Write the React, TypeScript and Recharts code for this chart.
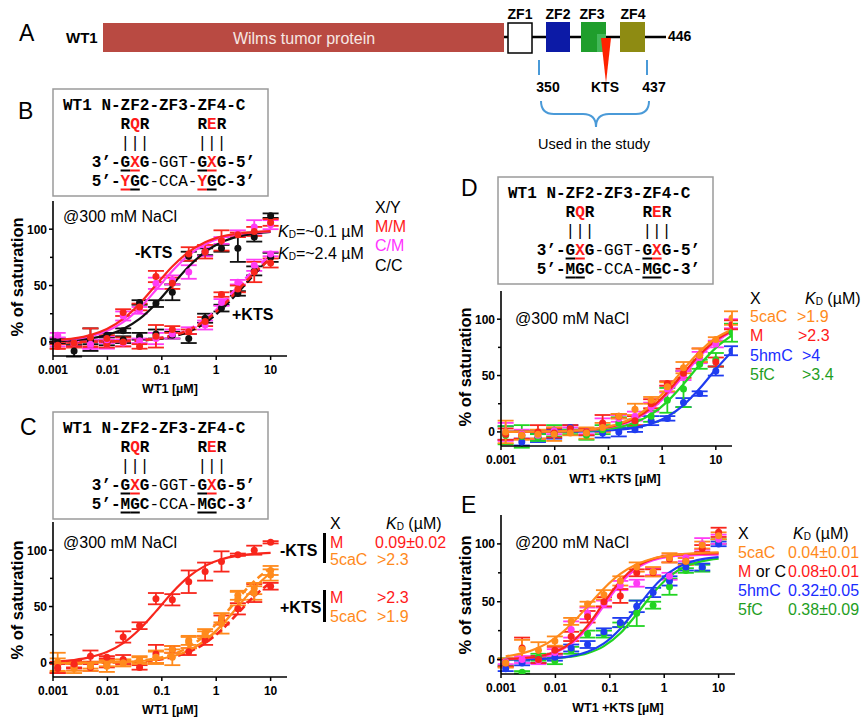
import React from 'react'
import { ComposedChart, Scatter, Line, XAxis, YAxis, ErrorBar } from 'recharts'

const SANS = "'Liberation Sans', Arial, sans-serif"
const MONO = "'Liberation Mono', 'Courier New', monospace"

const RED = '#f8261c'
const MAG = '#ff3cf5'
const BLK = '#111111'
const ORA = '#ff8a1c'
const BLU = '#1f3cf0'
const GRN = '#22d422'

// dilution series (uM)
const CONC = [0.00122, 0.00244, 0.00488, 0.00977, 0.0195, 0.039, 0.078, 0.156, 0.3125, 0.625, 1.25, 2.5, 5, 10]
const CONC_D = [0.00122, 0.00244, 0.00488, 0.00977, 0.0195, 0.039, 0.078, 0.156, 0.3125, 0.625, 1.25, 2.5, 5, 10, 20]
const X_TICKS = [0.001, 0.01, 0.1, 1, 10]
const Y_TICKS = [0, 25, 50, 75, 100]
const Y_LABELS = [0, 50, 100]

// B: -KTS
const B_MM_NO_Y = [-3, -1, 4, 3, 26, 31, 58, 52, 78, 80, 90, 95, 98, 106]
const B_MM_NO_E = [3, 3, 8, 3, 3, 3, 5, 5, 6, 6, 9, 2, 4, 3]
const B_MM_NO_FIT = [1.6, 3.1, 6.0, 11.4, 20.4, 33.9, 50.5, 66.9, 79.8, 88.4, 93.4, 96.1, 97.5, 98.3]
const B_CM_NO_Y = [6, -1, -2, 2, 23, 28, 52, 55, 62, 80, 90, 96, 102, 104]
const B_CM_NO_E = [2, 3, 4, 3, 4, 3, 5, 4, 6, 4, 3, 3, 6, 4]
const B_CM_NO_FIT = [1.3, 2.6, 5.1, 9.7, 17.6, 29.9, 46.0, 62.8, 76.9, 86.5, 92.4, 95.6, 97.3, 98.1]
const B_CC_NO_Y = [1, -8, 2, 6, 10, 35, 34, 44, 76, 80, 83, 83, 93, 112]
const B_CC_NO_E = [2, 5, 10, 2, 2, 2, 3, 7, 4, 3, 3, 12, 4, 2]
const B_CC_NO_FIT = [0.8, 1.6, 3.1, 6.1, 11.4, 20.4, 33.9, 50.5, 66.9, 79.8, 88.4, 93.4, 96.1, 97.5]
// B: +KTS
const B_MM_KTS_Y = [-4, -3, -2, -2, 0, -4, 5, 11, 9, 18, 42, 47, 62, 70]
const B_MM_KTS_E = [2, 2, 3, 3, 4, 2, 10, 3, 2, 4, 2, 3, 9, 4]
const B_MM_KTS_FIT = [0.1, 0.1, 0.2, 0.4, 0.7, 1.4, 2.8, 5.5, 10.5, 19, 31, 46, 61, 74]
const B_CM_KTS_Y = [-2, -2, -3, -2, -1, 1, 3, 7, 10, 15, 35, 53, 68, 78]
const B_CM_KTS_E = [2, 2, 3, 4, 3, 2, 5, 4, 3, 4, 3, 2, 5, 2]
const B_CM_KTS_FIT = [0.1, 0.1, 0.2, 0.4, 0.8, 1.5, 3, 5.8, 11, 20, 33, 49, 64, 77]
const B_CC_KTS_Y = [0, -1, 0, -1, 2, 5, 7, 6, 3, 21, 30, 43, 63, 75]
const B_CC_KTS_E = [2, 2, 2, 2, 3, 3, 4, 3, 4, 4, 3, 2, 4, 4]
const B_CC_KTS_FIT = [0, 0.1, 0.2, 0.3, 0.6, 1.2, 2.4, 4.8, 9.2, 17, 29, 44, 60, 75]

// C
const C_M_NO_Y = [-4, -1, 6, 5, 23, 33, 57, 56, 72, 81, 90, 96, 100, 107]
const C_M_NO_E = [5, 3, 5, 1, 5, 3, 5, 5, 10, 8, 9, 1, 4, 1]
const C_M_NO_FIT = [1.3, 2.6, 5.1, 9.6, 17.5, 29.8, 45.7, 62.5, 76.5, 86.1, 91.9, 95.1, 96.8, 97.6]
const C_CA_NO_Y = [1, -5, -3, -3, 0, 2, 5, 5, 20, 25, 35, 57, 62, 78]
const C_CA_NO_E = [8, 4, 4, 5, 3, 3, 6, 7, 4, 3, 9, 6, 6, 5]
const C_CA_NO_FIT = [0.05, 0.1, 0.2, 0.4, 0.8, 1.5, 3, 5.9, 11.1, 20, 33.3, 50, 66.7, 80]
const C_M_KTS_Y = [-5, -2, -4, -1, 3, -4, 8, 12, 10, 20, 38, 48, 62, 68]
const C_M_KTS_E = [4, 3, 3, 3, 4, 2, 8, 3, 3, 4, 4, 5, 8, 3]
const C_M_KTS_FIT = [0.04, 0.08, 0.2, 0.3, 0.7, 1.3, 2.6, 5.1, 9.6, 17.5, 29.2, 44.1, 59.2, 71.4]
const C_CA_KTS_Y = [-2, -4, -2, 0, 0, 3, 5, 12, 18, 27, 40, 60, 66, 82]
const C_CA_KTS_E = [6, 3, 3, 3, 3, 3, 5, 3, 5, 3, 4, 4, 5, 4]
const C_CA_KTS_FIT = [0.06, 0.13, 0.26, 0.5, 1, 2, 3.9, 7.6, 14.1, 24.8, 39.7, 56.8, 72.5, 84]

// D (+KTS, 300 mM)
const D_CA_Y = [0, -3, -2, -2, -1, -1, 4, 14, 20, 28, 40, 57, 68, 82, 101]
const D_CA_E = [10, 4, 4, 6, 2, 5, 4, 2, 5, 3, 4, 5, 6, 2, 6]
const D_CA_FIT = [0.06, 0.12, 0.24, 0.49, 0.97, 1.9, 3.8, 7.2, 13.5, 23.8, 38.5, 55.6, 71.4, 83.3, 90.9]
const D_M_Y = [-2, -3, 0, -1, 3, 0, 8, 14, 10, 25, 43, 52, 68, 62, 95]
const D_M_E = [5, 3, 6, 4, 3, 3, 7, 2, 4, 4, 2, 4, 6, 4, 4]
const D_M_FIT = [0.05, 0.1, 0.2, 0.4, 0.8, 1.7, 3.3, 6.3, 12, 21.4, 35.2, 52.1, 68.5, 81.3, 89.7]
const D_C_Y = [0, -2, -3, 1, 2, 0, 6, 12, 14, 22, 38, 50, 66, 78, 96]
const D_C_E = [8, 4, 3, 3, 2, 2, 6, 3, 4, 4, 3, 4, 5, 3, 4]
const D_C_FIT = [0.05, 0.1, 0.2, 0.4, 0.8, 1.5, 3, 5.9, 11.1, 20, 33.3, 50, 66.7, 80, 88.9]
const D_HM_Y = [-1, -9, -5, -2, 4, 0, -1, 0, 2, 10, 12, 26, 34, 54, 72]
const D_HM_E = [6, 3, 4, 4, 2, 3, 4, 4, 2, 4, 2, 4, 2, 4, 4]
const D_HM_FIT = [0.02, 0.03, 0.06, 0.12, 0.24, 0.49, 0.97, 1.9, 3.8, 7.2, 13.5, 23.8, 38.5, 55.6, 71.4]
const D_F_Y = [-3, -4, -5, 1, 0, -3, 2, 8, 8, 14, 28, 38, 60, 64, 88]
const D_F_E = [8, 10, 3, 5, 2, 4, 4, 5, 3, 5, 11, 16, 4, 6, 8]
const D_F_FIT = [0.04, 0.07, 0.14, 0.29, 0.57, 1.1, 2.2, 4.4, 8.4, 15.5, 26.9, 42.4, 59.5, 74.6, 85.5]

// E (+KTS, 200 mM)
const E_CA_Y = [-3, 9, 8, 16, 33, 48, 56, 68, 80, 76, 88, 85, 99, 107]
const E_CA_E = [4, 8, 7, 4, 3, 2, 4, 4, 4, 4, 4, 3, 3, 3]
const E_CA_FIT = [2.8, 5.3, 10.1, 18.3, 30.5, 45.9, 61.5, 74, 82.4, 87.4, 90.1, 91.5, 92.3, 92.6]
const E_M_Y = [-3, 10, 0, 8, 20, 37, 50, 55, 75, 75, 87, 85, 96, 110]
const E_M_E = [3, 9, 3, 3, 4, 5, 4, 6, 3, 3, 3, 3, 3, 4]
const E_M_FIT = [0.5, 1.2, 2.8, 6.6, 14.7, 29.3, 49.2, 68, 80.5, 87, 89.9, 91.1, 91.6, 91.8]
const E_C_Y = [-2, 0, -1, 6, 26, 40, 48, 64, 66, 76, 72, 88, 100, 104]
const E_C_E = [2, 3, 3, 3, 7, 5, 3, 4, 3, 3, 3, 3, 5, 4]
const E_C_FIT = [0.5, 1.1, 2.5, 6.0, 13.5, 27.2, 46.6, 65.8, 78.9, 85.9, 88.9, 90.1, 90.6, 90.8]
const E_HM_Y = [-8, -3, 0, 2, 10, 13, 24, 32, 46, 58, 68, 80, 80, 100]
const E_HM_E = [2, 2, 3, 3, 3, 3, 3, 4, 5, 4, 4, 3, 3, 2]
const E_HM_FIT = [0.1, 0.3, 0.6, 1.3, 3.0, 6.7, 14, 26.7, 44.4, 62.2, 75.3, 83, 86.8, 88.6]
const E_F_Y = [-2, -11, 2, -1, 8, 22, 22, 30, 40, 47, 63, 77, 79, 102]
const E_F_E = [3, 1, 3, 3, 3, 3, 3, 2, 11, 3, 7, 2, 3, 2]
const E_F_FIT = [0.1, 0.2, 0.5, 1.1, 2.4, 5.4, 11.6, 22.7, 39.3, 57.4, 71.8, 80.6, 85.1, 87.3]

type Series = { color: string; xs: number[]; y: number[]; e: number[]; fit: number[]; dash?: boolean }

const B_SERIES: Series[] = [
  { color: BLK, xs: CONC, y: B_CC_KTS_Y, e: B_CC_KTS_E, fit: B_CC_KTS_FIT, dash: true },
  { color: MAG, xs: CONC, y: B_CM_KTS_Y, e: B_CM_KTS_E, fit: B_CM_KTS_FIT, dash: true },
  { color: RED, xs: CONC, y: B_MM_KTS_Y, e: B_MM_KTS_E, fit: B_MM_KTS_FIT, dash: true },
  { color: BLK, xs: CONC, y: B_CC_NO_Y, e: B_CC_NO_E, fit: B_CC_NO_FIT },
  { color: MAG, xs: CONC, y: B_CM_NO_Y, e: B_CM_NO_E, fit: B_CM_NO_FIT },
  { color: RED, xs: CONC, y: B_MM_NO_Y, e: B_MM_NO_E, fit: B_MM_NO_FIT },
]
const C_SERIES: Series[] = [
  { color: RED, xs: CONC, y: C_M_KTS_Y, e: C_M_KTS_E, fit: C_M_KTS_FIT, dash: true },
  { color: ORA, xs: CONC, y: C_CA_KTS_Y, e: C_CA_KTS_E, fit: C_CA_KTS_FIT, dash: true },
  { color: ORA, xs: CONC, y: C_CA_NO_Y, e: C_CA_NO_E, fit: C_CA_NO_FIT },
  { color: RED, xs: CONC, y: C_M_NO_Y, e: C_M_NO_E, fit: C_M_NO_FIT },
]
const D_SERIES: Series[] = [
  { color: BLU, xs: CONC_D, y: D_HM_Y, e: D_HM_E, fit: D_HM_FIT },
  { color: GRN, xs: CONC_D, y: D_F_Y, e: D_F_E, fit: D_F_FIT },
  { color: MAG, xs: CONC_D, y: D_C_Y, e: D_C_E, fit: D_C_FIT },
  { color: RED, xs: CONC_D, y: D_M_Y, e: D_M_E, fit: D_M_FIT },
  { color: ORA, xs: CONC_D, y: D_CA_Y, e: D_CA_E, fit: D_CA_FIT },
]
const E_SERIES: Series[] = [
  { color: GRN, xs: CONC, y: E_F_Y, e: E_F_E, fit: E_F_FIT },
  { color: BLU, xs: CONC, y: E_HM_Y, e: E_HM_E, fit: E_HM_FIT },
  { color: MAG, xs: CONC, y: E_C_Y, e: E_C_E, fit: E_C_FIT },
  { color: RED, xs: CONC, y: E_M_Y, e: E_M_E, fit: E_M_FIT },
  { color: ORA, xs: CONC, y: E_CA_Y, e: E_CA_E, fit: E_CA_FIT },
]

function BindingPlot({ left, top, w, h, series }: { left: number; top: number; w: number; h: number; series: Series[] }) {
  const YW = 44, MT = 6, MR = 6, XH = 26
  const bottom = MT + h
  const xTick = (p: any) => (
    <g>
      <line x1={p.x} x2={p.x} y1={bottom} y2={bottom + 4} stroke="#000" strokeWidth={1.5} />
      <text x={p.x} y={bottom + 18} textAnchor="middle" fontFamily={SANS} fontWeight="bold" fontSize={12} fill="#000">
        {p.payload.value}
      </text>
    </g>
  )
  const yTick = (p: any) => {
    const v = p.payload.value
    const major = Y_LABELS.includes(v)
    return (
      <g>
        <line x1={YW - (major ? 4 : 3)} x2={YW} y1={p.y} y2={p.y} stroke="#000" strokeWidth={1.5} />
        {major && (
          <text x={YW - 6} y={p.y} dy="0.36em" textAnchor="end" fontFamily={SANS} fontWeight="bold" fontSize={12} fill="#000">
            {v}
          </text>
        )}
      </g>
    )
  }
  return (
    <div style={{ position: 'absolute', left: left - YW, top: top - MT }}>
      <ComposedChart width={YW + w + MR} height={MT + h + XH} margin={{ top: MT, right: MR, bottom: 0, left: 0 }}>
        <XAxis type="number" dataKey="x" scale="log" domain={[0.001, 20]} allowDataOverflow ticks={X_TICKS}
          tick={xTick} tickLine={false} axisLine={{ stroke: '#000', strokeWidth: 1.6 }} height={XH} interval={0} />
        <YAxis type="number" dataKey="y" domain={[-12.5, 125]} allowDataOverflow ticks={Y_TICKS}
          tick={yTick} tickLine={false} axisLine={{ stroke: '#000', strokeWidth: 1.6 }} width={YW} interval={0} />
        {series.map((s, i) => (
          <Scatter key={'p' + i} data={s.xs.map((x, j) => ({ x, y: s.y[j], e: s.e[j] }))} fill={s.color}
            shape={(p: any) => <circle cx={p.cx} cy={p.cy} r={3.5} fill={s.color} />} isAnimationActive={false}>
            <ErrorBar dataKey="e" direction="y" width={8} stroke={s.color} strokeWidth={1.8} />
          </Scatter>
        ))}
        {series.map((s, i) => (
          <Line key={'f' + i} data={s.xs.map((x, j) => ({ x, y: s.fit[j] }))} dataKey="y" type="monotone"
            stroke={s.color} strokeWidth={s.dash ? 2.6 : 2.2} strokeDasharray={s.dash ? '7 4' : undefined}
            dot={false} activeDot={false} isAnimationActive={false} />
        ))}
      </ComposedChart>
    </div>
  )
}

type Seg = { t: string; n?: boolean; red?: boolean; u?: boolean }
const CW = 9.6
const TXT_RED = '#ff1a1a'

function MonoRow({ x, y, segs }: { x: number; y: number; segs: Seg[] }) {
  let col = 0
  const lines: React.ReactNode[] = []
  const spans = segs.map((s, i) => {
    const start = col
    col += s.t.length
    if (s.u) {
      lines.push(<line key={'u' + i} x1={x + start * CW} x2={x + col * CW} y1={y + 7.5} y2={y + 7.5}
        stroke={s.red ? TXT_RED : '#000'} strokeWidth={2} />)
    }
    return <tspan key={i} fontWeight={s.n ? 'normal' : 'bold'} fill={s.red ? TXT_RED : '#000'}>{s.t}</tspan>
  })
  return (
    <g>
      <text x={x} y={y} fill="#000" fontFamily={MONO} fontSize={16} dominantBaseline="central" style={{ whiteSpace: 'pre' }}>{spans}</text>
      {lines}
    </g>
  )
}

function SeqBox({ x, y, bottomLetter }: { x: number; y: number; bottomLetter: 'Y' | 'M' }) {
  const isY = bottomLetter === 'Y'
  return (
    <g>
      <rect x={x} y={y} width={215} height={107} fill="none" stroke="#9a9a9a" strokeWidth={1.5} />
      <MonoRow x={x + 10} y={y + 17} segs={[{ t: 'WT1 N-ZF2-ZF3-ZF4-C' }]} />
      <MonoRow x={x + 10} y={y + 36} segs={[{ t: '      R' }, { t: 'Q', red: true }, { t: 'R     R' }, { t: 'E', red: true }, { t: 'R' }]} />
      <MonoRow x={x + 10} y={y + 55} segs={[{ t: '      |||     |||', n: true }]} />
      <MonoRow x={x + 10} y={y + 74} segs={[
        { t: '   3’-' }, { t: 'G', u: true }, { t: 'X', red: true, u: true }, { t: 'G' }, { t: '-GGT-', n: true },
        { t: 'G', u: true }, { t: 'X', red: true, u: true }, { t: 'G' }, { t: '-5’' },
      ]} />
      <MonoRow x={x + 10} y={y + 93} segs={[
        { t: '   5’-' }, { t: bottomLetter, red: isY, u: true }, { t: 'G', u: true }, { t: 'C' }, { t: '-CCA-', n: true },
        { t: bottomLetter, red: isY, u: true }, { t: 'G', u: true }, { t: 'C' }, { t: '-3’' },
      ]} />
    </g>
  )
}

function T({ x, y, c = '#000', s = 16, b, anchor, children }: any) {
  return (
    <text x={x} y={y} fill={c} fontSize={s} fontFamily={SANS} fontWeight={b ? 'bold' : 'normal'}
      textAnchor={anchor || 'start'} dominantBaseline="central">{children}</text>
  )
}

function KD({ x, y, rest, c = '#000' }: { x: number; y: number; rest: string; c?: string }) {
  return (
    <text x={x} y={y} fill={c} fontSize={16} fontFamily={SANS} dominantBaseline="central">
      <tspan fontStyle="italic">K</tspan>
      <tspan fontSize={10} dy={3}>D</tspan>
      <tspan dy={-3}>{rest}</tspan>
    </text>
  )
}

const L_RED = '#ff1a1a'
const L_ORA = '#ff8a1c'
const L_BLU = '#1a2cff'
const L_GRN = '#1f9e1f'
const L_MAG = '#ff33ff'

function Overlay() {
  return (
    <svg width={862} height={719} style={{ position: 'absolute', left: 0, top: 0, pointerEvents: 'none' }}>
      {/* panel A */}
      <T x={19} y={33} s={23}>A</T>
      <T x={66} y={37} s={15} b>WT1</T>
      <rect x={103} y={23} width={401} height={29} fill="#b94a42" />
      <T x={304} y={38} s={16} c="#f6e7e3" anchor="middle">Wilms tumor protein</T>
      <line x1={504} y1={37} x2={666} y2={37} stroke="#000" strokeWidth={2.5} />
      <rect x={508} y={23} width={24} height={30} fill="#fff" stroke="#000" strokeWidth={1.5} />
      <rect x={546} y={22} width={24} height={30} fill="#0c1aa6" />
      <rect x={581} y={22} width={25} height={30} fill="#1f9e2c" />
      <rect x={597} y={34} width={9} height={18} fill="#43b85a" />
      <rect x={620} y={22} width={25} height={30} fill="#8e8b12" />
      <polygon points="601,38 611,38 606,83" fill="#ff2200" />
      <T x={520} y={14} s={14} b anchor="middle">ZF1</T>
      <T x={558} y={14} s={14} b anchor="middle">ZF2</T>
      <T x={592} y={14} s={14} b anchor="middle">ZF3</T>
      <T x={633} y={14} s={14} b anchor="middle">ZF4</T>
      <T x={668} y={36} s={14} b>446</T>
      <T x={548} y={87} s={14} b anchor="middle">350</T>
      <T x={605} y={87} s={14} b anchor="middle">KTS</T>
      <T x={654} y={87} s={14} b anchor="middle">437</T>
      <line x1={539} y1={60} x2={539} y2={75} stroke="#4a9ad8" strokeWidth={2} />
      <line x1={647} y1={60} x2={647} y2={75} stroke="#4a9ad8" strokeWidth={2} />
      <path d="M541,101 Q541,114 554,114 L583,114 Q596,114 596,127 Q596,114 609,114 L636,114 Q649,114 649,101"
        fill="none" stroke="#4a9ad8" strokeWidth={2} />
      <T x={594} y={144} s={14.5} anchor="middle">Used in the study</T>

      {/* panel B */}
      <T x={18} y={111} s={23}>B</T>
      <SeqBox x={53} y={89} bottomLetter="Y" />
      <T x={63} y={216}>@300 mM NaCl</T>
      <T x={135} y={252} b>-KTS</T>
      <T x={232} y={314} b>+KTS</T>
      <KD x={278} y={231} rest="=~0.1 µM" />
      <KD x={278} y={253} rest="=~2.4 µM" />
      <T x={375} y={207}>X/Y</T>
      <T x={375} y={226} c={L_RED}>M/M</T>
      <T x={375} y={245} c={L_MAG}>C/M</T>
      <T x={375} y={265}>C/C</T>
      <g transform="translate(17,277) rotate(-90)"><T x={0} y={0} s={16.5} b anchor="middle">% of saturation</T></g>
      <T x={170} y={389} s={12.5} b anchor="middle">WT1 [µM]</T>

      {/* panel C */}
      <T x={20} y={427} s={23}>C</T>
      <SeqBox x={53} y={412} bottomLetter="M" />
      <T x={63} y={542}>@300 mM NaCl</T>
      <T x={330} y={523}>X</T>
      <KD x={386} y={523} rest=" (µM)" />
      <T x={280} y={550} b>-KTS</T>
      <rect x={323} y={533} width={3} height={30} fill="#000" />
      <T x={330} y={542} c={L_RED}>M</T>
      <T x={375} y={542} c={L_RED}>0.09±0.02</T>
      <T x={330} y={559} c={L_ORA}>5caC</T>
      <T x={377} y={559} c={L_ORA}>&gt;2.3</T>
      <T x={280} y={607} b>+KTS</T>
      <rect x={323} y={590} width={3} height={32} fill="#000" />
      <T x={330} y={597} c={L_RED}>M</T>
      <T x={377} y={597} c={L_RED}>&gt;2.3</T>
      <T x={330} y={616} c={L_ORA}>5caC</T>
      <T x={377} y={616} c={L_ORA}>&gt;1.9</T>
      <g transform="translate(17,600) rotate(-90)"><T x={0} y={0} s={16.5} b anchor="middle">% of saturation</T></g>
      <T x={170} y={710} s={12.5} b anchor="middle">WT1 [µM]</T>

      {/* panel D */}
      <T x={461} y={188} s={23}>D</T>
      <SeqBox x={498} y={177} bottomLetter="M" />
      <T x={515} y={318}>@300 mM NaCl</T>
      <T x={750} y={298}>X</T>
      <KD x={805} y={298} rest=" (µM)" />
      <T x={750} y={316} c={L_ORA}>5caC</T>
      <T x={797} y={316} c={L_ORA}>&gt;1.9</T>
      <T x={750} y={335} c={L_RED}>M</T>
      <T x={798} y={335} c={L_RED}>&gt;2.3</T>
      <T x={750} y={355} c={L_BLU}>5hmC</T>
      <T x={802} y={355} c={L_BLU}>&gt;4</T>
      <T x={750} y={374} c={L_GRN}>5fC</T>
      <T x={802} y={374} c={L_GRN}>&gt;3.4</T>
      <g transform="translate(465,367) rotate(-90)"><T x={0} y={0} s={16.5} b anchor="middle">% of saturation</T></g>
      <T x={615} y={479} s={12.5} b anchor="middle">WT1 +KTS [µM]</T>

      {/* panel E */}
      <T x={461} y={505} s={23}>E</T>
      <T x={515} y={542}>@200 mM NaCl</T>
      <T x={738} y={533}>X</T>
      <KD x={793} y={533} rest=" (µM)" />
      <T x={738} y={552} c={L_ORA}>5caC</T>
      <T x={788} y={552} c={L_ORA}>0.04±0.01</T>
      <text x={738} y={571} fontSize={16} fontFamily={SANS} dominantBaseline="central">
        <tspan fill={L_RED}>M</tspan><tspan fill="#000"> or C</tspan>
      </text>
      <T x={788} y={571} c={L_RED}>0.08±0.01</T>
      <T x={738} y={590} c={L_BLU}>5hmC</T>
      <T x={788} y={590} c={L_BLU}>0.32±0.05</T>
      <T x={738} y={609} c={L_GRN}>5fC</T>
      <T x={788} y={609} c={L_GRN}>0.38±0.09</T>
      <g transform="translate(465,595) rotate(-90)"><T x={0} y={0} s={16.5} b anchor="middle">% of saturation</T></g>
      <T x={618} y={708} s={12.5} b anchor="middle">WT1 +KTS [µM]</T>
    </svg>
  )
}

export default function App() {
  return (
    <div style={{ position: 'absolute', left: 0, top: 0, width: 862, height: 719, background: '#fff', overflow: 'hidden', fontFamily: SANS }}>
      <BindingPlot left={53} top={201} w={234} h={155} series={B_SERIES} />
      <BindingPlot left={53} top={522} w={234} h={155} series={C_SERIES} />
      <BindingPlot left={501} top={291} w={231} h={155} series={D_SERIES} />
      <BindingPlot left={501} top={515} w={234} h={159} series={E_SERIES} />
      <Overlay />
    </div>
  )
}
